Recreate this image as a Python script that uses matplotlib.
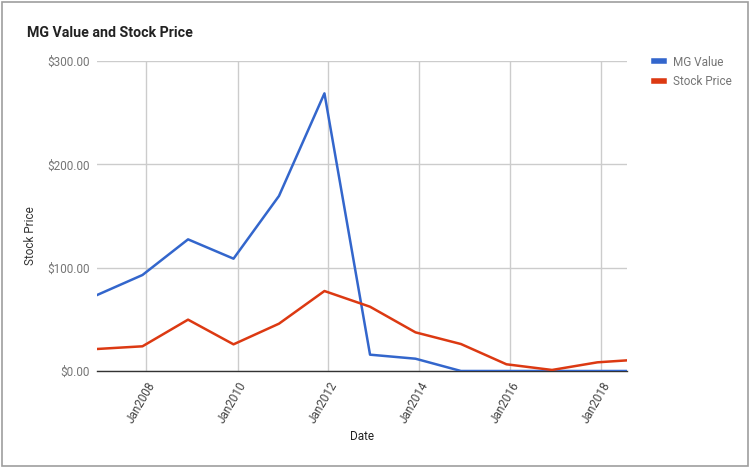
import matplotlib
matplotlib.use("Agg")
import matplotlib.pyplot as plt
import matplotlib.dates as mdates
from matplotlib.patches import Rectangle
from matplotlib.lines import Line2D
import datetime as dt

dates = ["2006-11-30", "2007-11-30", "2008-11-30", "2009-11-30", "2010-11-30",
         "2011-11-30", "2012-11-30", "2013-11-30", "2014-11-30", "2015-11-30",
         "2016-11-30", "2017-11-30", "2018-07-25"]
mg_value = [73.5, 92.9, 127.4, 108.7, 169.4, 268.7, 15.8, 11.9, 0, 0, 0, 0, 0]
stock_price = [21.3, 23.9, 49.7, 25.8, 45.8, 77.4, 62.2, 37.4, 26.1, 6.5, 1.0, 8.4, 10.3]
y_ticks = [0, 100, 200, 300]
x_tick_years = [2008, 2010, 2012, 2014, 2016, 2018]

plt.rcParams['font.family'] = ['Roboto', 'DejaVu Sans']

x = [dt.datetime.strptime(d, "%Y-%m-%d") for d in dates]

W, H = 752, 470
fig = plt.figure(figsize=(W / 100, H / 100), dpi=100)
ax = fig.add_axes([97 / W, 1 - 371 / H, (627 - 97) / W, (371 - 61) / H])

blue = "#3366cc"
red = "#dc3912"

ax.plot(x, mg_value, color=blue, lw=1.8, label="MG Value", solid_joinstyle="round", zorder=3)
ax.plot(x, stock_price, color=red, lw=1.8, label="Stock Price", solid_joinstyle="round", zorder=3)

ax.set_xlim(x[0], x[-1])
ax.set_ylim(0, 300)
ax.set_yticks(y_ticks)
ax.set_yticklabels([f"${v:,.2f}" for v in y_ticks])
xt = [dt.datetime(y, 1, 1) for y in x_tick_years]
ax.set_xticks(xt)
ax.set_xticklabels([f"Jan{y}" for y in x_tick_years], rotation=60, ha="right",
                   rotation_mode="anchor")

ax.grid(True, color="#cccccc", lw=1)
ax.set_axisbelow(True)
for s in ["top", "right", "left"]:
    ax.spines[s].set_visible(False)
ax.spines["bottom"].set_color("#333333")
ax.spines["bottom"].set_linewidth(1)
ax.spines["bottom"].set_zorder(2)
ax.tick_params(axis="both", length=0)
ax.tick_params(axis="y", labelsize=8.5, labelcolor="#757575", pad=5)
ax.tick_params(axis="x", labelsize=8.5, labelcolor="#444444", pad=6)

ax.set_xlabel("Date", fontsize=8.5, color="#222222")
ax.xaxis.set_label_coords((362 - 97) / (627 - 97), -(436 - 371) / (371 - 61))
ax.xaxis.label.set_va("center")
fig.text(31 / W, 1 - 236 / H, "Stock Price", rotation=90, fontsize=8.5,
         color="#333333", ha="center", va="center")

fig.text(27 / W, 1 - 33 / H, "MG Value and Stock Price", fontsize=10.2,
         fontweight="bold", color="#222222", ha="left", va="center")

handles = [Line2D([], [], color=blue, lw=4), Line2D([], [], color=red, lw=4)]
fig.legend(handles, ["MG Value", "Stock Price"], loc="upper left",
           bbox_to_anchor=(643 / W, 1 - 45 / H), frameon=False,
           handlelength=0.9, handletextpad=0.7, labelspacing=0.55,
           fontsize=8.5, labelcolor="#757575")

fig.patches.append(Rectangle((2 / W, 1 - 466 / H), (748 - 2) / W, (466 - 2) / H,
                             transform=fig.transFigure, fill=False,
                             edgecolor="#9e9e9e", lw=1.2))

fig.savefig("out.png", dpi=100)
